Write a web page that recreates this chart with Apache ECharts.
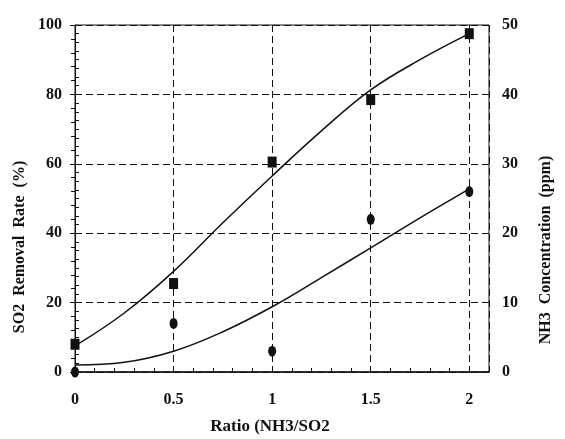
<!DOCTYPE html>
<html>
<head>
<meta charset="utf-8">
<script src="https://cdn.jsdelivr.net/npm/echarts@6/dist/echarts.min.js"></script>
<style>
  html, body { margin: 0; padding: 0; background: #fff; }
  #chart { width: 565px; height: 439px; }
</style>
</head>
<body>
<div id="chart"></div>
<script>
// measured points
const ratio = [0, 0.5, 1, 1.5, 2];
const removalRate = [8, 25.5, 60.5, 78.5, 97.5];   // %
const nh3Conc = [0, 7, 3, 22, 26];                 // ppm

// fitted curves
const curveX = [0, 0.25, 0.5, 0.75, 1, 1.25, 1.5, 1.75, 2];
const removalFit = [7.5, 17, 29, 43, 56.5, 69.5, 81.3, 90, 97.5];
const nh3Fit = [1, 1.4, 3, 5.8, 9.4, 13.6, 17.9, 22.2, 26.4];

const leftTicks = [0, 20, 40, 60, 80, 100];
const rightTicks = [0, 10, 20, 30, 40, 50];
const xTicks = [0, 0.5, 1, 1.5, 2];

const ink = '#111';
const font = 'Liberation Serif';

const pairs = (xs, ys) => xs.map((x, i) => [x, ys[i]]);

const chart = echarts.init(document.getElementById('chart'));

const labelStyle = {
  color: ink,
  fontFamily: font,
  fontWeight: 'bold',
  fontSize: 16
};

chart.setOption({
  backgroundColor: '#fff',
  animation: false,
  grid: {
    left: 75,
    right: 76,
    top: 25,
    bottom: 67,
    show: true,
    borderColor: ink,
    borderWidth: 1
  },
  xAxis: [
    {
      type: 'value',
      min: 0,
      max: 2.1,
      interval: 0.1,
      axisLine: { show: true, lineStyle: { color: ink, width: 1.5 } },
      axisTick: { show: true, inside: true, length: 4, lineStyle: { color: ink } },
      splitLine: { show: false },
      axisLabel: {
        ...labelStyle,
        margin: 20,
        formatter: v => {
          const hit = xTicks.find(t => Math.abs(t - v) < 1e-6);
          return hit === undefined ? '' : String(hit);
        }
      }
    },
    {
      // only used for the dashed vertical grid
      type: 'value',
      min: 0,
      max: 2.1,
      interval: 0.5,
      position: 'top',
      axisLine: { show: false },
      axisTick: { show: false },
      axisLabel: { show: false },
      splitLine: { show: true, lineStyle: { color: ink, type: [7, 4], width: 1 } }
    }
  ],
  yAxis: [
    {
      type: 'value',
      min: leftTicks[0],
      max: leftTicks[leftTicks.length - 1],
      interval: 20,
      axisLine: { show: true, lineStyle: { color: ink, width: 1 } },
      axisTick: { show: true, inside: true, length: 5, lineStyle: { color: ink } },
      minorTick: { show: true, splitNumber: 8, length: 4, lineStyle: { color: ink } },
      splitLine: { show: true, lineStyle: { color: ink, type: [7, 4], width: 1 } },
      axisLabel: { ...labelStyle, margin: 13, padding: [0, 0, 14, 0] }
    },
    {
      type: 'value',
      min: rightTicks[0],
      max: rightTicks[rightTicks.length - 1],
      interval: 10,
      position: 'right',
      axisLine: { show: true, lineStyle: { color: ink, width: 1 } },
      axisTick: { show: true, inside: true, length: 5, lineStyle: { color: ink } },
      minorTick: { show: true, splitNumber: 5, length: 4, lineStyle: { color: ink } },
      splitLine: { show: false },
      axisLabel: { ...labelStyle, margin: 13, padding: [0, 0, 14, 0] }
    }
  ],
  graphic: [
    {
      type: 'text',
      x: 20, y: 247,
      rotation: Math.PI / 2,
      style: {
        text: 'SO2  Removal  Rate  (%)',
        fill: ink, font: 'bold 16px "Liberation Serif"',
        align: 'center', verticalAlign: 'middle'
      }
    },
    {
      type: 'text',
      x: 546, y: 250,
      rotation: Math.PI / 2,
      style: {
        text: 'NH3  Concentration  (ppm)',
        fill: ink, font: 'bold 16px "Liberation Serif"',
        align: 'center', verticalAlign: 'middle'
      }
    },
    {
      type: 'text',
      x: 270, y: 427,
      style: {
        text: 'Ratio (NH3/SO2',
        fill: ink, font: 'bold 17px "Liberation Serif"',
        align: 'center', verticalAlign: 'middle'
      }
    }
  ],
  series: [
    {
      type: 'line',
      data: pairs(curveX, removalFit),
      smooth: 0.4,
      showSymbol: false,
      clip: false,
      lineStyle: { color: ink, width: 1.5 }
    },
    {
      type: 'line',
      yAxisIndex: 1,
      data: pairs(curveX, nh3Fit),
      smooth: 0.4,
      showSymbol: false,
      clip: false,
      lineStyle: { color: ink, width: 1.5 }
    },
    {
      type: 'scatter',
      data: pairs(ratio, removalRate),
      symbol: 'rect',
      symbolSize: [9, 11],
      clip: false,
      itemStyle: { color: ink, opacity: 1 }
    },
    {
      type: 'scatter',
      yAxisIndex: 1,
      data: pairs(ratio, nh3Conc),
      symbol: 'circle',
      symbolSize: [8, 11],
      clip: false,
      itemStyle: { color: ink, opacity: 1 }
    }
  ]
});
</script>
</body>
</html>
